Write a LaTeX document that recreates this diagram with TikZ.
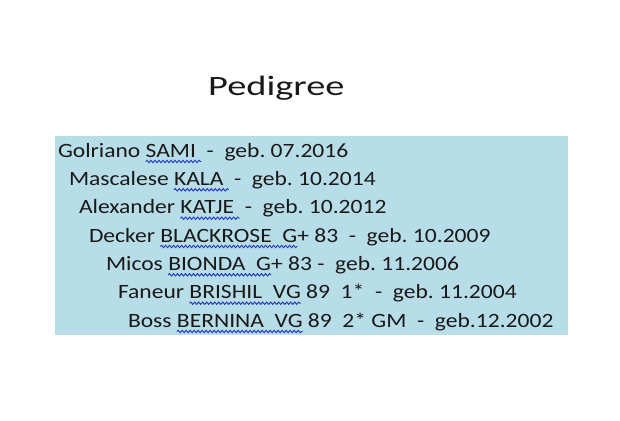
\documentclass[tikz,border=0pt]{standalone}
\usepackage{fontspec}
\setmainfont{Carlito}
\newfontfamily\textwide[FakeStretch=1.16]{Carlito}
\newfontfamily\titlewide[FakeStretch=1.37]{Carlito}
\usetikzlibrary{decorations.pathmorphing}
\definecolor{boxblue}{HTML}{B7DDE8}
\definecolor{squig}{HTML}{2233CC}
\newcommand{\kspc}{\ \mbox{}}
\frenchspacing
\tikzset{
  txt/.style={font=\textwide\frenchspacing\fontsize{20.3}{24}\selectfont, inner sep=0pt, outer sep=0pt, anchor=base west, text=black!90},
  wavy/.style={draw=squig, line width=0.9pt, decorate, decoration={snake, amplitude=1.2pt, segment length=4pt}},
  title/.style={font=\titlewide\fontsize{28}{32}\selectfont, inner sep=0pt, anchor=base west, text=black!90}
}
\begin{document}
\begin{tikzpicture}[x=1pt,y=1pt]
\useasboundingbox (0,0) rectangle (620,-420);
\fill[white] (0,0) rectangle (620,-420);
\fill[boxblue] (55,-136) rectangle (568,-335);
\node[title] (t) at (208,-95) {Pedigree};
% line 1
\node[txt] (p1) at (58,-157) {Golriano\kspc};
\node[txt] (u1) at (p1.base east) {SAMI\kspc};
\node[txt] (s1) at (u1.base east) {\mbox{}\ -\ \ geb. 07.2016};
% line 2
\node[txt] (p2) at (69,-185.3) {Mascalese\kspc};
\node[txt] (u2) at (p2.base east) {KALA\kspc};
\node[txt] (s2) at (u2.base east) {\mbox{}\ -\ \ geb. 10.2014};
% line 3
\node[txt] (p3) at (79,-213.7) {Alexander\kspc};
\node[txt] (u3) at (p3.base east) {KATJE\kspc};
\node[txt] (s3) at (u3.base east) {\mbox{}\ -\ \ geb. 10.2012};
% line 4
\node[txt] (p4) at (89,-242) {Decker\kspc};
\node[txt] (u4) at (p4.base east) {BLACKROSE\ \ G};
\node[txt] (s4) at (u4.base east) {+ 83\ \ -\ \ geb. 10.2009};
% line 5
\node[txt] (p5) at (106,-270.3) {Micos\kspc};
\node[txt] (u5) at (p5.base east) {BIONDA\ \ G};
\node[txt] (s5) at (u5.base east) {+ 83 -\ \ geb. 11.2006};
% line 6
\node[txt] (p6) at (118,-298.7) {Faneur\kspc};
\node[txt] (u6) at (p6.base east) {BRISHIL\ \ VG};
\node[txt] (s6) at (u6.base east) {\mbox{}\ 89\ \ 1*\ \ -\ \ geb. 11.2004};
% line 7
\node[txt] (p7) at (128,-327) {Boss\kspc};
\node[txt] (u7) at (p7.base east) {BERNINA\ \ VG};
\node[txt] (s7) at (u7.base east) {\mbox{}\ 89\ \ 2* GM\ \ -\ \ geb.12.2002};
% spell-check squiggles
\foreach \i in {1,...,7}{
  \draw[wavy] ([yshift=-4.5pt]u\i.base west) -- ([yshift=-4.5pt]u\i.base east);
}
\end{tikzpicture}
\end{document}
